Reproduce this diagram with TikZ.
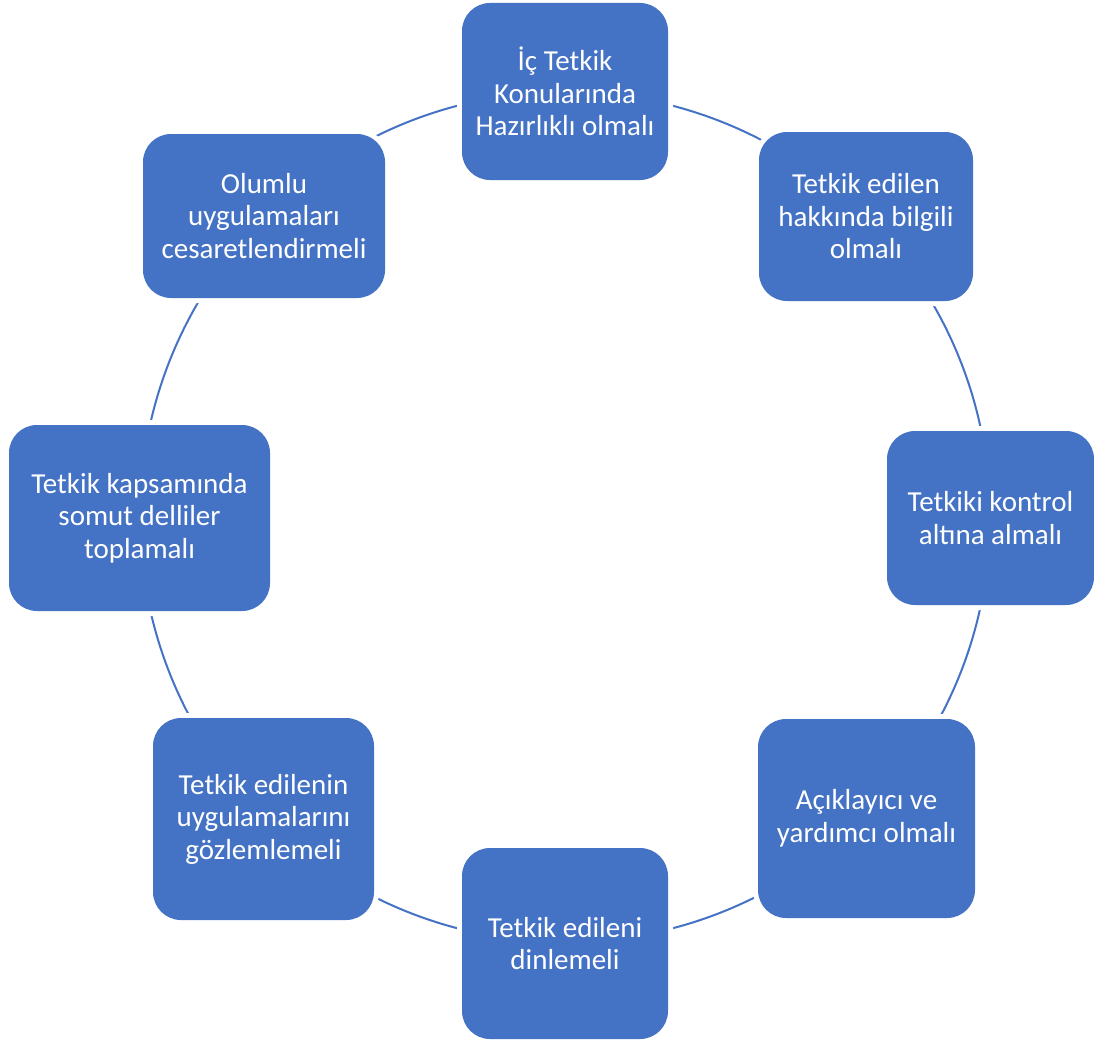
\documentclass[tikz,border=0pt]{standalone}
\usepackage{fontspec}
\setmainfont{Carlito}
\definecolor{boxblue}{HTML}{4472C4}
\begin{document}
\begin{tikzpicture}[x=1pt,y=-1pt,
  item/.style={rectangle, rounded corners=28pt, fill=boxblue, text=white,
    align=center, inner sep=0pt, font=\fontsize{29}{32.5}\selectfont,
    preaction={draw=white, line width=10pt}},
  ring/.style={draw=boxblue, line width=2pt}]
\useasboundingbox (0,0) rectangle (1094,1041);
% the cycle ring behind the boxes
\coordinate (c) at (565,517);
\draw[ring] (c) circle[radius=425];
% the eight stages
\node[item, minimum width=206pt, minimum height=177pt] (n1) at (565,91.5)
  {İç Tetkik\\Konularında\\Hazırlıklı olmalı};
\node[item, minimum width=214pt, minimum height=169pt] (n2) at (866,216.5)
  {Tetkik edilen\\hakkında bilgili\\olmalı};
\node[item, minimum width=207pt, minimum height=174pt] (n3) at (990.5,518)
  {Tetkiki kontrol\\altına almalı};
\node[item, minimum width=217pt, minimum height=199pt] (n4) at (866.5,818.5)
  {Açıklayıcı ve\\yardımcı olmalı};
\node[item, minimum width=206pt, minimum height=191pt] (n5) at (565,943.5)
  {Tetkik edileni\\dinlemeli};
\node[item, minimum width=221pt, minimum height=202pt] (n6) at (263.5,819)
  {Tetkik edilenin\\uygulamalarını\\gözlemlemeli};
\node[item, minimum width=261pt, minimum height=186pt] (n7) at (139.5,518)
  {Tetkik kapsamında\\somut delliler\\toplamalı};
\node[item, minimum width=242pt, minimum height=164pt] (n8) at (264,216)
  {Olumlu\\uygulamaları\\cesaretlendirmeli};
\end{tikzpicture}
\end{document}
